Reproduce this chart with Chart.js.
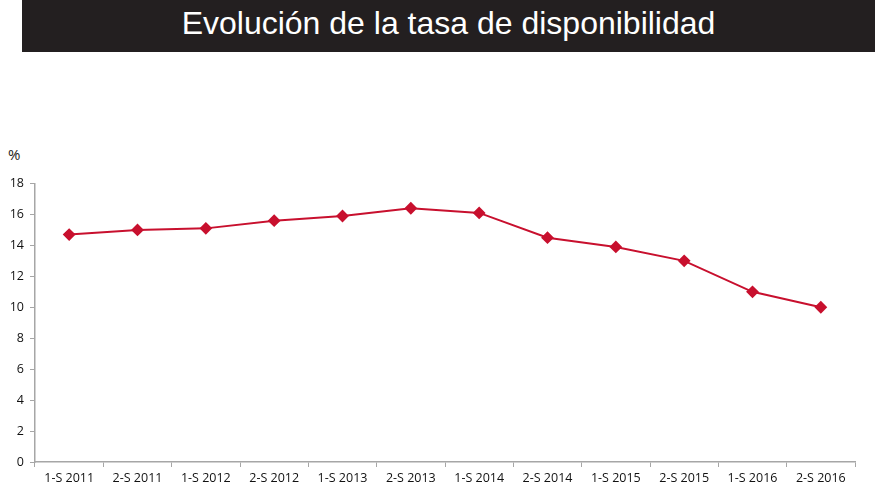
<!DOCTYPE html>
<html>
<head>
<meta charset="utf-8">
<script src="https://cdn.jsdelivr.net/npm/chart.js@4"></script>
<style>
  body { margin: 0; width: 875px; height: 500px; background: #fff; position: relative; overflow: hidden; font-family: "Liberation Sans", Arial, sans-serif; }
  #title { position: absolute; left: 22px; top: 0; width: 853px; height: 52px; background: #231f20; color: #fff; font-size: 32px; line-height: 46px; text-align: center; }
  #unit { position: absolute; left: 8px; top: 144px; font-size: 15px; color: #222; font-family: "Open Sans", sans-serif; }
  #wrap { position: absolute; left: 0; top: 170px; width: 875px; height: 330px; }
</style>
</head>
<body>
<div id="title">Evolución de la tasa de disponibilidad</div>
<div id="unit">%</div>
<div id="wrap"><canvas id="chart"></canvas></div>
<script>
const periods = ["1-S 2011", "2-S 2011", "1-S 2012", "2-S 2012", "1-S 2013", "2-S 2013",
                 "1-S 2014", "2-S 2014", "1-S 2015", "2-S 2015", "1-S 2016", "2-S 2016"];
const rates = [14.7, 15.0, 15.1, 15.6, 15.9, 16.4, 16.1, 14.5, 13.9, 13.0, 11.0, 10.0];
const yTicks = [0, 2, 4, 6, 8, 10, 12, 14, 16, 18];

const red = "#c8102e";
const axisGrey = "#a6a6a6";
const tickFont = { family: "Open Sans", size: 12.5 };

new Chart(document.getElementById("chart"), {
  type: "line",
  data: {
    labels: periods,
    datasets: [{
      data: rates,
      borderColor: red,
      backgroundColor: red,
      borderWidth: 2,
      pointStyle: "rectRot",
      pointRadius: 5,
      pointHoverRadius: 5,
      tension: 0
    }]
  },
  options: {
    responsive: true,
    maintainAspectRatio: false,
    animation: false,
    layout: { padding: { top: 13, right: 20, left: 0, bottom: 0 } },
    plugins: { legend: { display: false }, tooltip: { enabled: false } },
    scales: {
      x: {
        offset: true,
        grid: { offset: true, drawOnChartArea: false, drawTicks: true, tickLength: 5, color: axisGrey },
        border: { color: axisGrey, width: 1.5 },
        ticks: { color: "#111", font: tickFont, padding: 4, maxRotation: 0, autoSkip: false },
        afterFit: s => { s.height = 38; }
      },
      y: {
        min: 0,
        max: 18,
        afterBuildTicks: s => { s.ticks = yTicks.map(v => ({ value: v })); },
        grid: { drawOnChartArea: false, drawTicks: true, tickLength: 5, color: axisGrey },
        border: { color: axisGrey, width: 1.5 },
        ticks: { color: "#111", font: tickFont, padding: 6 },
        afterFit: s => { s.width = 35; }
      }
    }
  }
});
</script>
</body>
</html>
